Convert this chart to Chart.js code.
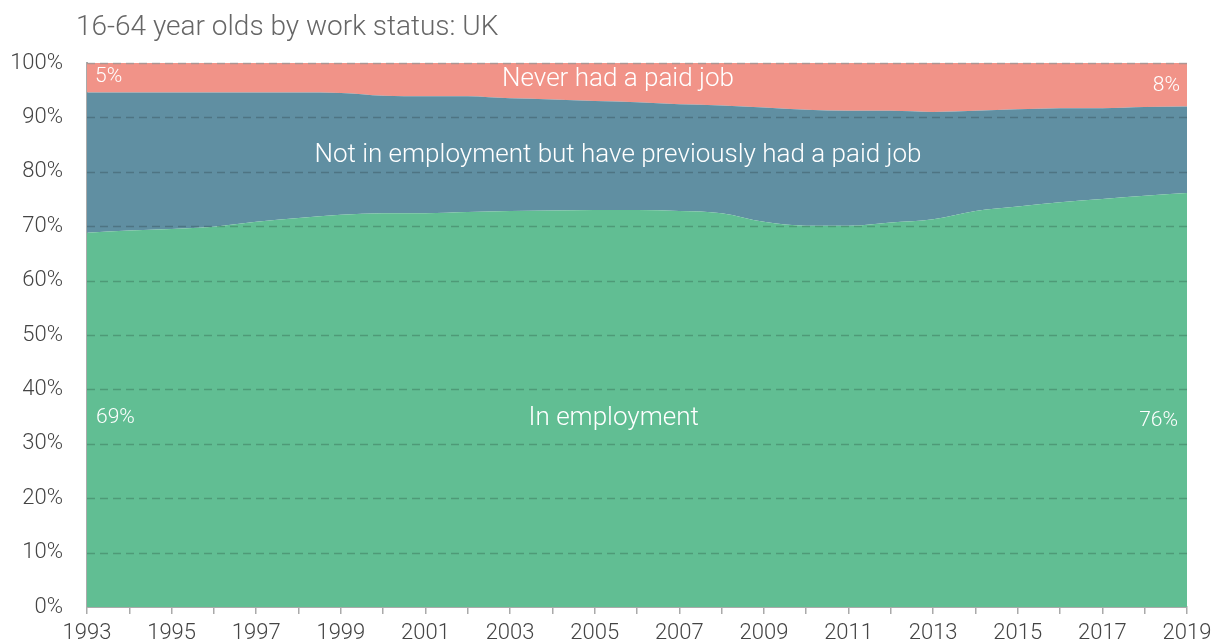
<!DOCTYPE html>
<html><head><meta charset="utf-8">
<script src="https://cdn.jsdelivr.net/npm/chart.js@4"></script>
<style>html,body{margin:0;padding:0;background:#fff}#wrap{width:1211px;height:644px}</style>
</head><body><div id="wrap"><canvas id="c" width="1211" height="644"></canvas></div>
<script>
const years = ['1993','1994','1995','1996','1997','1998','1999','2000','2001','2002','2003','2004','2005','2006','2007','2008','2009','2010','2011','2012','2013','2014','2015','2016','2017','2018','2019'];
// % of 16-64 year olds
const inEmployment = [68.8,69.2,69.5,69.9,70.8,71.5,72.1,72.4,72.4,72.6,72.8,72.9,73.0,73.0,72.8,72.4,70.8,70.1,70.1,70.7,71.3,72.8,73.6,74.4,75.0,75.6,76.1];
const previouslyHadJob = [25.8,25.4,25.1,24.7,23.8,23.1,22.4,21.6,21.5,21.3,20.7,20.4,20.0,19.8,19.6,19.8,21.0,21.3,21.1,20.5,19.7,18.4,17.9,17.3,16.7,16.3,15.9];
const neverHadJob = [5.4,5.4,5.4,5.4,5.4,5.4,5.5,6.0,6.1,6.1,6.5,6.7,7.0,7.2,7.6,7.8,8.2,8.6,8.8,8.8,9.0,8.8,8.5,8.3,8.3,8.1,8.0];
const yTicks = [0,10,20,30,40,50,60,70,80,90,100];

const FONT = 'Roboto, "Noto Sans", sans-serif';

const overlay = {
  id: 'overlay',
  afterDatasetsDraw(chart) {
    const {ctx, chartArea: a, scales: {x, y}} = chart;
    ctx.save();
    ctx.setLineDash([8,5]);
    ctx.lineWidth = 1.5;
    yTicks.forEach(v => {
      if (v === 0) return;
      const py = Math.round(y.getPixelForValue(v)) + 0.5;
      ctx.strokeStyle = v === 100 ? 'rgba(150,150,150,0.75)' : 'rgba(0,0,0,0.19)';
      ctx.beginPath(); ctx.moveTo(a.left, py); ctx.lineTo(a.right, py); ctx.stroke();
    });
    ctx.setLineDash([]);
    ctx.fillStyle = '#ffffff';
    ctx.textBaseline = 'middle';
    const last = years.length - 1;
    const mid = x.getPixelForValue(12.55);
    ctx.font = '300 26px ' + FONT;
    ctx.textAlign = 'center';
    ctx.fillText('Never had a paid job', mid, y.getPixelForValue(96.9));
    ctx.fillText('Not in employment but have previously had a paid job', mid, y.getPixelForValue(83));
    ctx.fillText('In employment', x.getPixelForValue(12.45), y.getPixelForValue(34.6));
    ctx.font = '300 21px ' + FONT;
    ctx.textAlign = 'left';
    ctx.fillText(Math.round(neverHadJob[0]) + '%', x.getPixelForValue(0) + 8, y.getPixelForValue(97.5));
    ctx.fillText(Math.round(inEmployment[0]) + '%', x.getPixelForValue(0) + 9, y.getPixelForValue(34.8));
    ctx.textAlign = 'right';
    ctx.fillText(Math.round(neverHadJob[last]) + '%', x.getPixelForValue(last) - 7, y.getPixelForValue(95.8));
    ctx.fillText(Math.round(inEmployment[last]) + '%', x.getPixelForValue(last) - 9, y.getPixelForValue(34.3));
    ctx.fillStyle = '#666666';
    ctx.font = '300 28px ' + FONT;
    ctx.textAlign = 'left';
    ctx.fillText('16-64 year olds by work status: UK', 76, 28);
    ctx.restore();
  }
};

new Chart(document.getElementById('c'), {
  type: 'line',
  data: {
    labels: years,
    datasets: [
      {label: 'In employment', data: inEmployment, backgroundColor: '#61be93', fill: 'origin'},
      {label: 'Not in employment but have previously had a paid job', data: previouslyHadJob, backgroundColor: '#608fa2', fill: '-1'},
      {label: 'Never had a paid job', data: neverHadJob, backgroundColor: '#f19388', fill: '-1'}
    ]
  },
  options: {
    responsive: false,
    animation: false,
    devicePixelRatio: 1,
    layout: {padding: {top: 63, right: 24, left: 0, bottom: 0}},
    elements: {
      line: {borderWidth: 0, tension: 0.35, cubicInterpolationMode: 'monotone'},
      point: {radius: 0, hoverRadius: 0}
    },
    plugins: {legend: {display: false}, tooltip: {enabled: false}, title: {display: false}},
    scales: {
      x: {
        offset: false,
        afterFit: s => { s.height = 37; s.paddingLeft = 0; s.paddingRight = 0; },
        grid: {display: true, drawOnChartArea: false, drawTicks: true, tickLength: 7, color: '#aaaaaa', lineWidth: 1.5},
        border: {display: true, color: '#aaaaaa', width: 2},
        ticks: {
          autoSkip: false, maxRotation: 0, padding: 6, color: '#444444',
          font: {family: FONT, size: 22, weight: '300'},
          callback: (v, i) => i % 2 === 0 ? years[i] : ''
        }
      },
      y: {
        stacked: true,
        min: 0, max: 100,
        afterFit: s => { s.width = 87; s.paddingTop = 0; s.paddingBottom = 0; },
        afterBuildTicks: s => { s.ticks = yTicks.map(v => ({value: v})); },
        grid: {display: false, drawTicks: false},
        border: {display: true, color: '#aaaaaa', width: 2},
        ticks: {
          padding: 24, color: '#444444',
          font: {family: FONT, size: 22, weight: '300'},
          callback: v => v + '%'
        }
      }
    }
  },
  plugins: [overlay]
});
</script></body></html>
